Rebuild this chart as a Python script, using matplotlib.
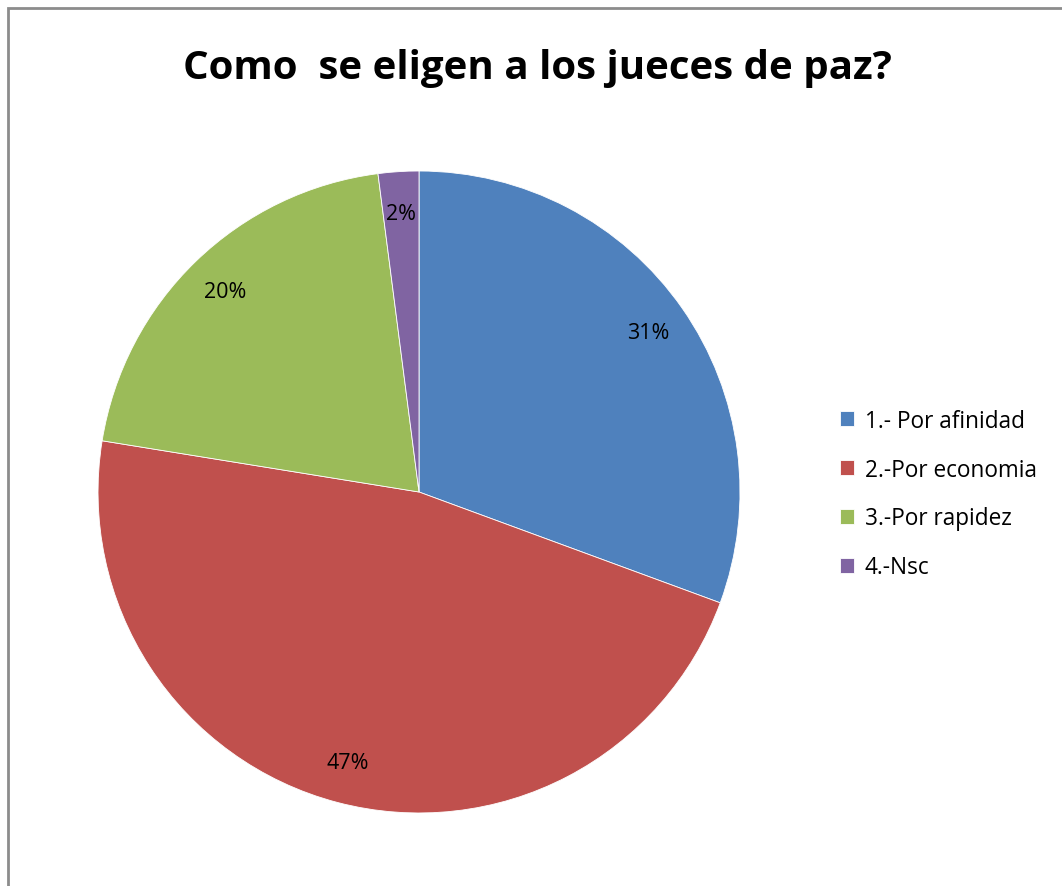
import matplotlib.pyplot as plt
from matplotlib.patches import Rectangle

plt.rcParams['font.family'] = ['Open Sans', 'DejaVu Sans']

categorias = ['1.- Por afinidad', '2.-Por economia', '3.-Por rapidez', '4.-Nsc']
valores = [15, 23, 10, 1]
colores = ['#4F81BD', '#C0504D', '#9BBB59', '#8064A2']

fig = plt.figure(figsize=(10.62, 8.87), dpi=100)

# borde gris del grafico (solo izquierda y arriba visibles)
fig.add_artist(Rectangle((8 / 1062, -0.05), 1.1, 1 - 9 / 887 + 0.05,
                         transform=fig.transFigure, fill=False,
                         edgecolor='#8c8c8c', linewidth=2))

ax = fig.add_axes([0.0923, 0.0823, 0.6045, 0.7238])
wedges, textos, autotextos = ax.pie(
    valores, colors=colores, startangle=90, counterclock=False,
    autopct='%1.0f%%', pctdistance=0.87, radius=1,
    wedgeprops={'edgecolor': 'white', 'linewidth': 0.6},
    textprops={'fontsize': 15.5, 'color': 'black'})
ax.set_xlim(-1, 1)
ax.set_ylim(-1, 1)
ax.set_aspect('equal')
ax.axis('off')

fig.text(0.506, 1 - 69 / 887, 'Como  se eligen a los jueces de paz?',
         ha='center', va='center', fontsize=29, fontweight='bold')

fig.legend(wedges, categorias, loc='center left',
           bbox_to_anchor=(831 / 1062, 1 - 495 / 887), frameon=False,
           fontsize=16.3, handlelength=0.6, handleheight=0.6,
           handletextpad=0.5, labelspacing=1.1, borderaxespad=0)

plt.savefig('out.png', dpi=100)
